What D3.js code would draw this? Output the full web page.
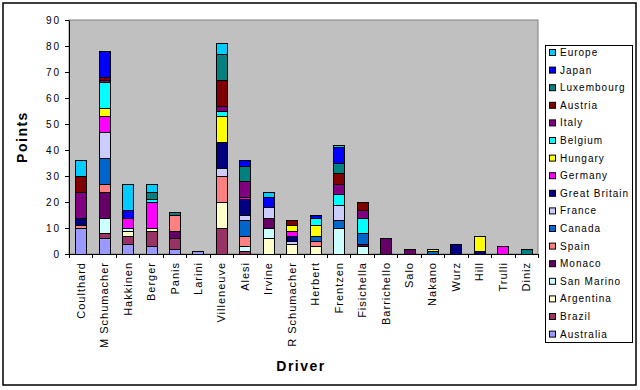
<!DOCTYPE html>
<html>
<head>
<meta charset="utf-8">
<script src="https://cdn.jsdelivr.net/npm/d3@7"></script>
<style>
  body { margin: 0; background: #fff; }
  text { font-family: "Liberation Sans", Arial, sans-serif; }
</style>
</head>
<body>
<svg id="chart" width="640" height="390"></svg>
<script>
// Drivers (x categories)
const drivers = ["Coulthard", "M Schumacher", "Hakkinen", "Berger", "Panis", "Larini",
  "Villeneuve", "Alesi", "Irvine", "R Schumacher", "Herbert", "Frentzen", "Fisichella",
  "Barrichello", "Salo", "Nakano", "Wurz", "Hill", "Trulli", "Diniz"];

// Races, stacking order bottom -> top
const races = ["Australia", "Brazil", "Argentina", "San Marino", "Monaco", "Spain", "Canada",
  "France", "Great Britain", "Germany", "Hungary", "Belgium", "Italy", "Austria",
  "Luxembourg", "Japan", "Europe"];

const raceColors = ["#9999FF", "#993366", "#FFFFCC", "#CCFFFF", "#660066", "#FF8080", "#0066CC",
  "#CCCCFF", "#000080", "#FF00FF", "#FFFF00", "#00FFFF", "#800080", "#800000",
  "#008080", "#0000FF", "#00CCFF"];

// Points per race, one value per driver (same order as drivers)
const australia   = [10, 6, 4, 3, 2, 1, 0, 0, 0, 0, 0, 0, 0, 0, 0, 0, 0, 0, 0, 0];
const brazil      = [0, 2, 3, 6, 4, 0, 10, 1, 0, 0, 0, 0, 0, 0, 0, 0, 0, 0, 0, 0];
const argentina   = [0, 0, 2, 1, 0, 0, 10, 0, 6, 4, 3, 0, 0, 0, 0, 0, 0, 0, 0, 0];
const sanMarino   = [0, 6, 1, 0, 0, 0, 0, 2, 4, 0, 0, 10, 3, 0, 0, 0, 0, 0, 0, 0];
const monaco      = [0, 10, 0, 0, 3, 0, 0, 0, 4, 0, 0, 0, 1, 6, 2, 0, 0, 0, 0, 0];
const spain       = [1, 3, 0, 0, 6, 0, 10, 4, 0, 0, 2, 0, 0, 0, 0, 0, 0, 0, 0, 0];
const canada      = [0, 10, 0, 0, 0, 0, 0, 6, 0, 0, 2, 3, 4, 0, 0, 1, 0, 0, 0, 0];
const france      = [0, 10, 0, 0, 0, 0, 3, 2, 4, 1, 0, 6, 0, 0, 0, 0, 0, 0, 0, 0];
const greatBritain = [3, 0, 0, 0, 0, 0, 10, 6, 0, 2, 0, 0, 0, 0, 0, 0, 4, 1, 0, 0];
const germany     = [0, 6, 4, 10, 0, 0, 0, 1, 0, 2, 0, 0, 0, 0, 0, 0, 0, 0, 3, 0];
const hungary     = [0, 3, 0, 0, 0, 0, 10, 0, 0, 2, 4, 0, 0, 0, 0, 1, 0, 6, 0, 0];
const belgium     = [0, 10, 0, 1, 0, 0, 2, 0, 0, 0, 3, 4, 6, 0, 0, 0, 0, 0, 0, 0];
const italy       = [10, 1, 0, 0, 0, 0, 2, 6, 0, 0, 0, 4, 3, 0, 0, 0, 0, 0, 0, 0];
const austria     = [6, 1, 0, 0, 0, 0, 10, 0, 0, 2, 0, 4, 3, 0, 0, 0, 0, 0, 0, 0];
const luxembourg  = [0, 0, 0, 3, 1, 0, 10, 6, 0, 0, 0, 4, 0, 0, 0, 0, 0, 0, 0, 2];
const japan       = [0, 10, 3, 0, 0, 0, 0, 2, 4, 0, 1, 6, 0, 0, 0, 0, 0, 0, 0, 0];
const europe      = [6, 0, 10, 3, 0, 0, 4, 0, 2, 0, 0, 1, 0, 0, 0, 0, 0, 0, 0, 0];

const racePoints = [australia, brazil, argentina, sanMarino, monaco, spain, canada, france,
  greatBritain, germany, hungary, belgium, italy, austria, luxembourg, japan, europe];

const yTicks = [0, 10, 20, 30, 40, 50, 60, 70, 80, 90];

// Build table for d3.stack
const table = drivers.map((d, i) => {
  const row = { driver: d };
  races.forEach((r, j) => { row[r] = racePoints[j][i]; });
  return row;
});

const svg = d3.select("#chart");
const plot = { left: 69, top: 20, right: 538, bottom: 254 };

// Outer border
svg.append("rect")
  .attr("x", 3).attr("y", 3)
  .attr("width", 633).attr("height", 382)
  .attr("fill", "#fff").attr("stroke", "#000").attr("stroke-width", 1.5);

// Plot area
svg.append("rect")
  .attr("x", plot.left).attr("y", plot.top)
  .attr("width", plot.right - plot.left).attr("height", plot.bottom - plot.top)
  .attr("fill", "#C0C0C0").attr("stroke", "#808080").attr("stroke-width", 1);

const x = d3.scaleBand()
  .domain(drivers)
  .range([plot.left, plot.right])
  .paddingInner(0.53).paddingOuter(0.265);

const y = d3.scaleLinear()
  .domain([0, 90])
  .range([plot.bottom, plot.top]);

const series = d3.stack().keys(races)(table);

// Bars
svg.append("g")
  .selectAll("g")
  .data(series)
  .join("g")
  .attr("fill", (d, i) => raceColors[i])
  .selectAll("rect")
  .data(d => d.filter(s => s[1] - s[0] > 0))
  .join("rect")
  .attr("x", d => Math.round(x(d.data.driver)) + 0.5)
  .attr("y", d => Math.round(y(d[1])) + 0.5)
  .attr("width", Math.round(x.bandwidth()))
  .attr("height", d => Math.round(y(d[0])) - Math.round(y(d[1])))
  .attr("stroke", "#000")
  .attr("stroke-width", 1);

// Y axis
const yAxis = svg.append("g")
  .attr("transform", `translate(${plot.left},0)`)
  .call(d3.axisLeft(y).tickValues(yTicks).tickSize(4).tickPadding(4).tickSizeOuter(0));
yAxis.select(".domain").attr("stroke", "#000");
yAxis.selectAll("text")
  .attr("font-size", 10)
  .attr("letter-spacing", 2)
  .attr("fill", "#000");

// X axis with ticks between categories
const xAxisG = svg.append("g");
xAxisG.append("line")
  .attr("x1", plot.left).attr("x2", plot.right)
  .attr("y1", plot.bottom + 0.5).attr("y2", plot.bottom + 0.5)
  .attr("stroke", "#000");
const step = x.step();
xAxisG.selectAll("line.tick")
  .data(d3.range(drivers.length + 1))
  .join("line")
  .attr("class", "tick")
  .attr("x1", i => Math.round(plot.left + i * step) + 0.5)
  .attr("x2", i => Math.round(plot.left + i * step) + 0.5)
  .attr("y1", plot.bottom).attr("y2", plot.bottom + 4)
  .attr("stroke", "#000");

xAxisG.selectAll("text")
  .data(drivers)
  .join("text")
  .attr("transform", d => `translate(${x(d) + x.bandwidth() / 2 + 4},${plot.bottom + 8}) rotate(-90)`)
  .attr("text-anchor", "end")
  .attr("font-size", 11)
  .attr("letter-spacing", 1)
  .text(d => d);

// Axis titles
svg.append("text")
  .attr("transform", "translate(27,137) rotate(-90)")
  .attr("text-anchor", "middle")
  .attr("font-size", 14)
  .attr("font-weight", "bold")
  .attr("letter-spacing", 1.5)
  .text("Points");

svg.append("text")
  .attr("x", 301).attr("y", 371)
  .attr("text-anchor", "middle")
  .attr("font-size", 14)
  .attr("font-weight", "bold")
  .attr("letter-spacing", 1.5)
  .text("Driver");

// Legend (top = last race)
const legend = svg.append("g");
legend.append("rect")
  .attr("x", 545.5).attr("y", 45.5)
  .attr("width", 87).attr("height", 297)
  .attr("fill", "#fff").attr("stroke", "#000");

const legendItems = legend.selectAll("g.item")
  .data(races.map((r, i) => ({ race: r, color: raceColors[i] })).reverse())
  .join("g")
  .attr("class", "item")
  .attr("transform", (d, i) => `translate(549,${53 + i * 17.6})`);

legendItems.append("rect")
  .attr("x", 0.5).attr("y", -3.5)
  .attr("width", 6).attr("height", 6)
  .attr("fill", d => d.color)
  .attr("stroke", "#000");

legendItems.append("text")
  .attr("x", 11).attr("y", 3)
  .attr("font-size", 10)
  .attr("letter-spacing", 1)
  .text(d => d.race);
</script>
</body>
</html>
